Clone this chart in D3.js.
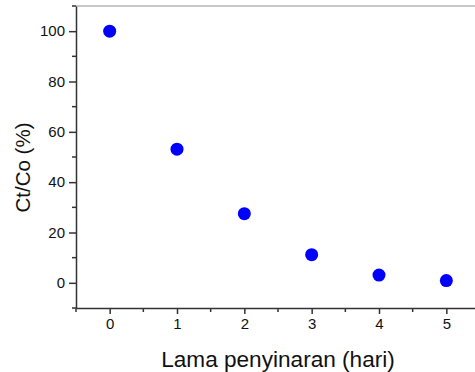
<!DOCTYPE html>
<html>
<head>
<meta charset="utf-8">
<script src="https://d3js.org/d3.v7.min.js"></script>
<style>
  body { margin: 0; background: #fff; }
  svg { display: block; font-family: "Liberation Sans", Arial, sans-serif; }
  .axis text { font-size: 15px; fill: #111; }
  .axis path, .axis line { stroke: #333; stroke-width: 1.5; }
</style>
</head>
<body>
<div id="chart"></div>
<script>
// days of irradiation and remaining concentration
var days = [0, 1, 2, 3, 4, 5];
var ctco = [100, 53.1, 27.5, 11.2, 3.1, 0.9];
var xTicks = [0, 1, 2, 3, 4, 5];
var yTicks = [0, 20, 40, 60, 80, 100];

var W = 475, H = 372;
var margin = {top: 6, right: -5, bottom: 64, left: 76};
var width = W - margin.left - margin.right,
    height = H - margin.top - margin.bottom;

var svg = d3.select("#chart").append("svg")
    .attr("width", W).attr("height", H);
var g = svg.append("g")
    .attr("transform", "translate(" + margin.left + "," + margin.top + ")");

var x = d3.scaleLinear().domain([-0.5, 5.5]).range([0, width]);
var y = d3.scaleLinear().domain([-10, 110]).range([height, 0]);

// top frame line
g.append("line")
    .attr("x1", 0).attr("x2", width)
    .attr("y1", 0).attr("y2", 0)
    .attr("stroke", "#c8c8c8").attr("stroke-width", 2);

// minor ticks
var xMinor = d3.range(-0.5, 5.51, 0.5).filter(function(d){ return d % 1 != 0; });
var yMinor = d3.range(-10, 111, 10).filter(function(d){ return d % 20 != 0; });

var xAxis = g.append("g").attr("class", "axis")
    .attr("transform", "translate(0," + height + ")")
    .call(d3.axisBottom(x).tickValues(xTicks).tickFormat(d3.format("d"))
      .tickSize(6).tickPadding(4).tickSizeOuter(0));
xAxis.selectAll(".minor").data(xMinor).enter().append("line")
    .attr("class", "minor")
    .attr("x1", function(d){ return x(d); }).attr("x2", function(d){ return x(d); })
    .attr("y1", 0).attr("y2", 4);

var yAxis = g.append("g").attr("class", "axis")
    .call(d3.axisLeft(y).tickValues(yTicks).tickFormat(d3.format("d"))
      .tickSize(7).tickPadding(4).tickSizeOuter(0));
yAxis.selectAll(".minor").data(yMinor).enter().append("line")
    .attr("class", "minor")
    .attr("y1", function(d){ return y(d); }).attr("y2", function(d){ return y(d); })
    .attr("x1", 0).attr("x2", -4);

g.selectAll(".dot")
    .data(days)
    .enter().append("circle")
    .attr("class", "dot")
    .attr("cx", function(d){ return x(d); })
    .attr("cy", function(d, i){ return y(ctco[i]); })
    .attr("r", 6.5)
    .attr("fill", "#0000ff");

// axis titles
svg.append("text")
    .attr("text-anchor", "middle")
    .attr("x", margin.left + x(2.5)).attr("y", 367)
    .attr("font-size", 22.6).attr("fill", "#111")
    .text("Lama penyinaran (hari)");

svg.append("text")
    .attr("text-anchor", "middle")
    .attr("transform", "translate(30,167.5)rotate(-90)")
    .attr("font-size", 20.5).attr("fill", "#111")
    .text("Ct/Co (%)");
</script>
</body>
</html>
